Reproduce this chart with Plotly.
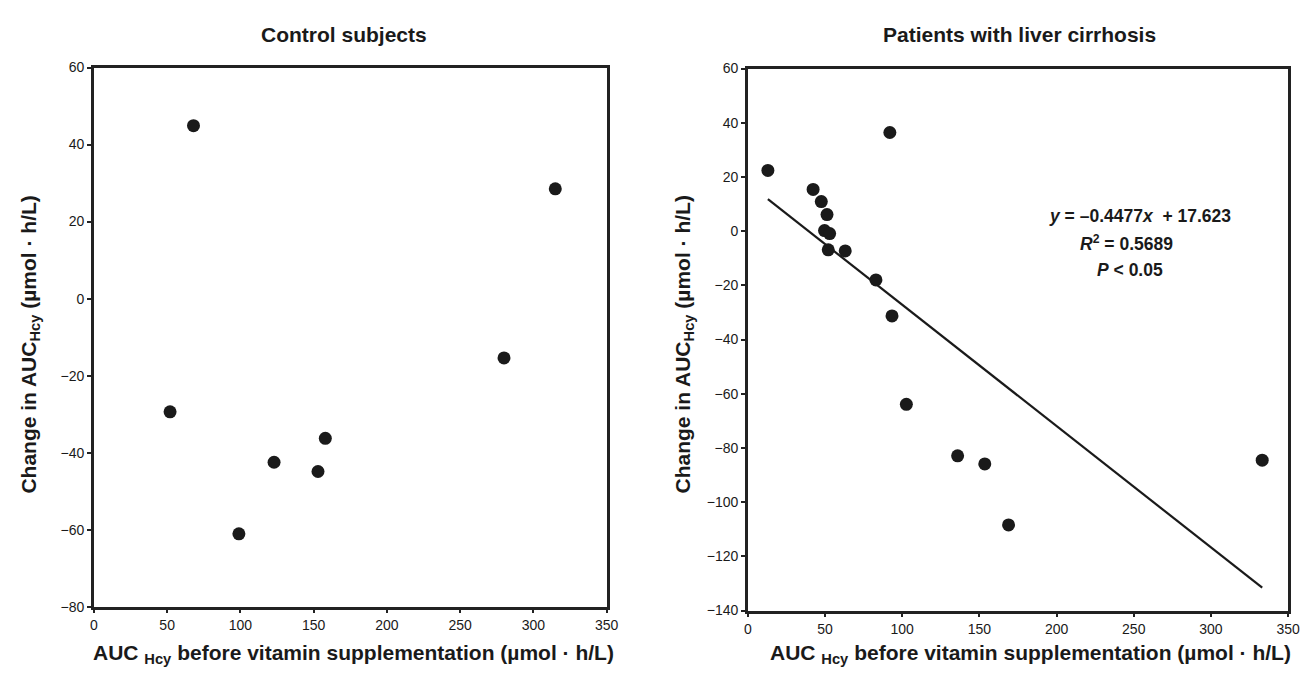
import numpy as np
import plotly.graph_objects as go

# ---- data ----
ctrl_x = [68, 315, 280, 52, 123, 153, 158, 99]
ctrl_y = [44.9, 28.5, -15.4, -29.4, -42.5, -44.9, -36.3, -61.1]

cirr_x = [13.0, 92.0, 42.3, 47.6, 51.3, 49.7, 53.0, 52.1, 63.1, 83.0, 93.4, 102.7, 135.9, 153.5, 168.9, 333.2]
cirr_y = [22.4, 36.4, 15.4, 10.9, 6.1, 0.2, -0.9, -6.9, -7.3, -18.0, -31.3, -63.9, -82.9, -85.9, -108.4, -84.5]

fit_slope = -0.4477
fit_intercept = 17.623

panel_titles = ["Control subjects", "Patients with liver cirrhosis"]
x_title = "AUC <sub>Hcy</sub> before vitamin supplementation (\u00b5mol \u00b7 h/L)"
y_title = "Change in AUC<sub>Hcy</sub> (\u00b5mol \u00b7 h/L)"
stats_lines = ["<i>y</i> = \u20130.4477<i>x</i>  + 17.623", "<i>R</i><sup>2</sup> = 0.5689", "<i>P</i> < 0.05"]

FONT = "Liberation Sans, Arial, sans-serif"
INK = "#1a1a1a"

W, H = 1311, 683
def px(X):
    return X / W
def py(Y):
    return 1 - Y / H

fig = go.Figure()
fig.add_trace(go.Scatter(x=ctrl_x, y=ctrl_y, mode="markers", xaxis="x", yaxis="y",
                         marker=dict(size=13, color=INK), showlegend=False))
fit_x = np.array([min(cirr_x), max(cirr_x)])
fit_y = fit_slope * fit_x + fit_intercept
fig.add_trace(go.Scatter(x=fit_x, y=fit_y, mode="lines", xaxis="x2", yaxis="y2",
                         line=dict(color=INK, width=2.2), showlegend=False))
fig.add_trace(go.Scatter(x=cirr_x, y=cirr_y, mode="markers", xaxis="x2", yaxis="y2",
                         marker=dict(size=13, color=INK), showlegend=False))

axis_common = dict(showline=True, mirror=True, linewidth=2.5, linecolor="#222",
                   ticks="outside", ticklen=4, tickwidth=1.5, tickcolor="#222",
                   showgrid=False, zeroline=False,
                   tickfont=dict(family=FONT, size=14, color=INK))

fig.update_layout(
    width=W, height=H,
    margin=dict(l=0, r=0, t=0, b=0),
    paper_bgcolor="white", plot_bgcolor="white",
    font=dict(family=FONT, color=INK),
    xaxis=dict(domain=[px(91), px(610)], range=[0, 350], dtick=50, anchor="y", **axis_common),
    yaxis=dict(domain=[py(613), py(61)], range=[-80, 60], dtick=20, anchor="x", **axis_common),
    xaxis2=dict(domain=[px(753), px(1300)], range=[0, 350], dtick=50, anchor="y2", **axis_common),
    yaxis2=dict(domain=[py(617), py(62)], range=[-140, 60], dtick=20, anchor="x2", **axis_common),
)

ann = []
# panel titles
for t, cx in zip(panel_titles, [344, 1028]):
    ann.append(dict(text="<b>%s</b>" % t, x=px(cx), y=py(27), xref="paper", yref="paper",
                    showarrow=False, xanchor="center", yanchor="middle",
                    font=dict(family=FONT, size=21, color=INK)))
# x titles
for cx in [354, 1039]:
    ann.append(dict(text="<b>%s</b>" % x_title, x=px(cx), y=py(662), xref="paper", yref="paper",
                    showarrow=False, xanchor="center", yanchor="middle",
                    font=dict(family=FONT, size=21, color=INK)))
# y titles
for cx in [26, 688]:
    ann.append(dict(text="<b>%s</b>" % y_title, x=px(cx), y=py(345), xref="paper", yref="paper",
                    showarrow=False, xanchor="center", yanchor="middle", textangle=-90,
                    font=dict(family=FONT, size=21, color=INK)))
# stats
for line, cx, cy in zip(stats_lines, [1150, 1136, 1140], [213, 241, 268]):
    ann.append(dict(text="<b>%s</b>" % line, x=px(cx), y=py(cy), xref="paper", yref="paper",
                    showarrow=False, xanchor="center", yanchor="middle",
                    font=dict(family=FONT, size=17.5, color=INK)))
fig.update_layout(annotations=ann)

fig.write_html("out.html", config={"displayModeBar": False},
               post_script="document.body.style.margin='0';document.body.style.overflow='hidden';")
